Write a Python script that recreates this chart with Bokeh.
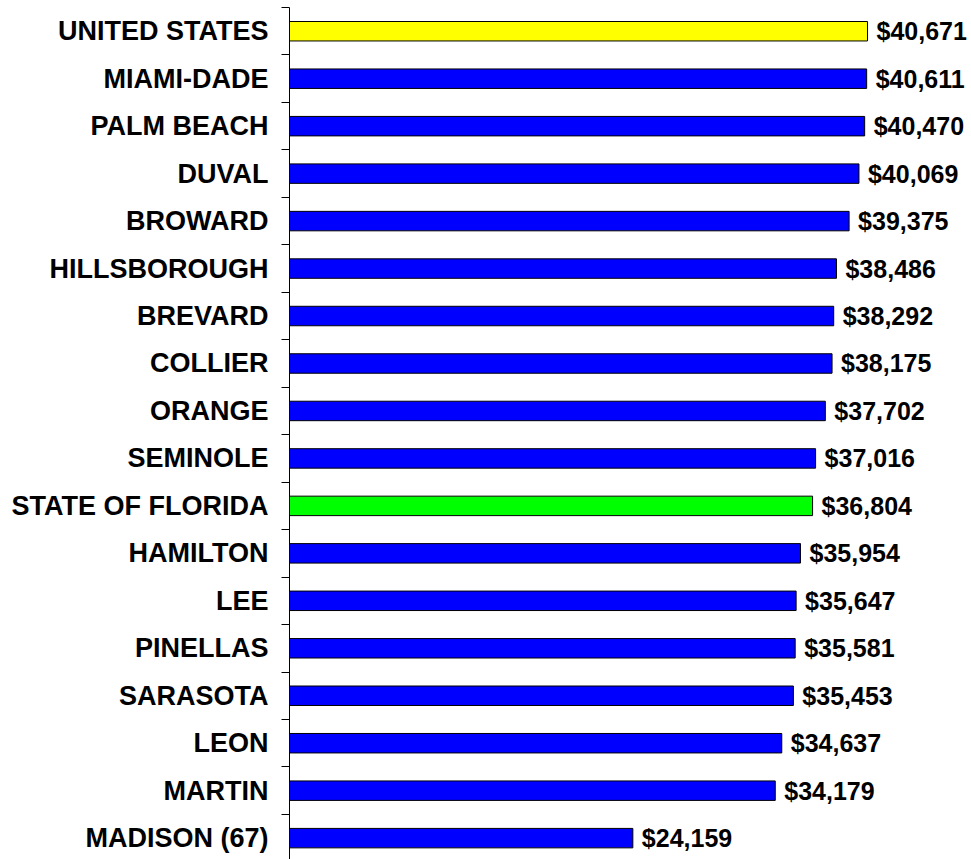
from bokeh.plotting import figure
from bokeh.models import ColumnDataSource, Range1d, FixedTicker
from bokeh.core.properties import value
from bokeh.embed import file_html
from bokeh.resources import INLINE

categories = ["UNITED STATES", "MIAMI-DADE", "PALM BEACH", "DUVAL", "BROWARD",
              "HILLSBOROUGH", "BREVARD", "COLLIER", "ORANGE", "SEMINOLE",
              "STATE OF FLORIDA", "HAMILTON", "LEE", "PINELLAS", "SARASOTA",
              "LEON", "MARTIN", "MADISON (67)"]
values = [40671, 40611, 40470, 40069, 39375, 38486, 38292, 38175, 37702, 37016,
          36804, 35954, 35647, 35581, 35453, 34637, 34179, 24159]
colors = ["#FFFF00"] + ["#0000FF"] * 9 + ["#00FF00"] + ["#0000FF"] * 7

pos = list(range(len(categories)))
labels = [f"${v:,}" for v in values]

src = ColumnDataSource(dict(y=pos, v=values, c=colors, lab=labels))

p = figure(width=971, height=859, output_backend="svg", toolbar_location=None,
           x_range=Range1d(0, 47987), y_range=Range1d(17.45, -0.5),
           min_border_left=289, min_border_right=0, min_border_top=7,
           min_border_bottom=0, x_axis_location=None)
p.outline_line_color = None
p.xgrid.visible = False
p.ygrid.visible = False

p.hbar(y="y", left=0, right="v", height=0.41, fill_color="c",
       line_color="black", line_width=1, source=src)
p.text(x="v", y="y", text="lab", x_offset=9, text_align="left",
       text_baseline="middle", text_font=value("Liberation Sans"),
       text_font_style="bold", text_font_size="25px", text_color="black",
       source=src)

ax = p.yaxis[0]
ax.ticker = FixedTicker(ticks=pos, minor_ticks=[i - 0.5 for i in range(len(categories))])
ax.major_label_overrides = {i: c for i, c in zip(pos, categories)}
ax.major_tick_line_color = None
ax.major_tick_out = 0
ax.major_tick_in = 0
ax.minor_tick_out = 8
ax.minor_tick_in = 0
ax.minor_tick_line_color = "black"
ax.axis_line_color = "black"
ax.major_label_standoff = 13
ax.major_label_text_font = "Liberation Sans"
ax.major_label_text_font_style = "bold"
ax.major_label_text_font_size = "27px"
ax.major_label_text_color = "black"

open("out.html", "w").write(file_html(p, INLINE))
